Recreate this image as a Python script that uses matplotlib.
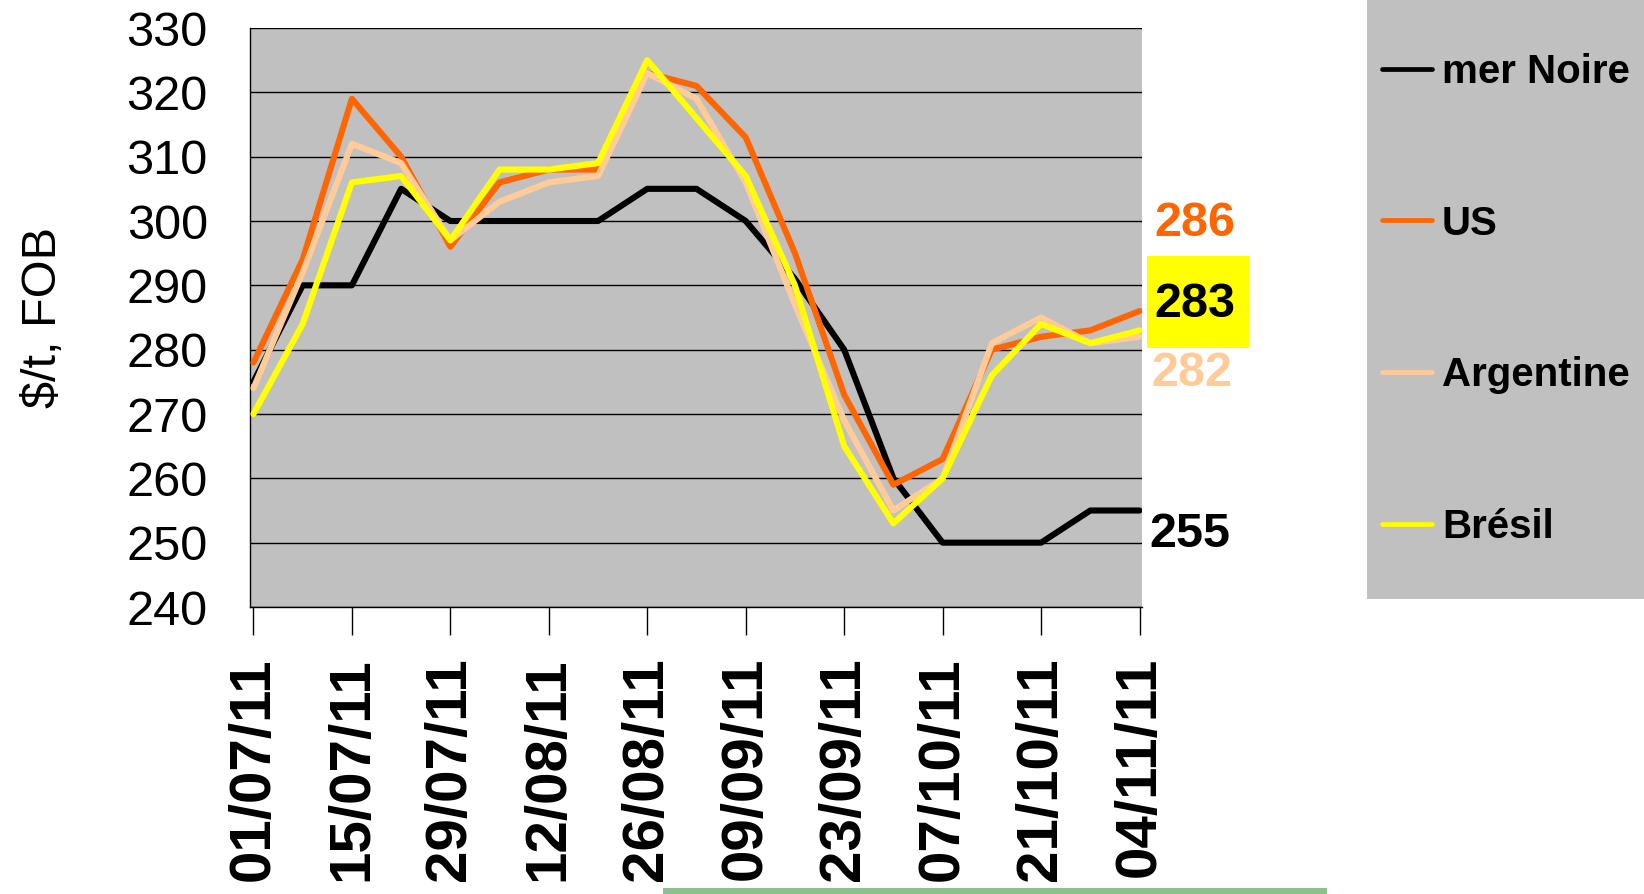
import matplotlib
matplotlib.use("Agg")
import matplotlib.pyplot as plt
from matplotlib.patches import Rectangle

# ---------------- data ----------------
dates = ['01/07/11', '08/07/11', '15/07/11', '22/07/11', '29/07/11', '05/08/11',
         '12/08/11', '19/08/11', '26/08/11', '02/09/11', '09/09/11', '16/09/11',
         '23/09/11', '30/09/11', '07/10/11', '14/10/11', '21/10/11', '28/10/11',
         '04/11/11']
mer_noire = [275, 290, 290, 305, 300, 300, 300, 300, 305, 305, 300, 291, 280, 260, 250, 250, 250, 255, 255]
us        = [278, 294, 319, 310, 296, 306, 308, 308, 323, 321, 313, 295, 273, 259, 263, 280, 282, 283, 286]
argentine = [274, 292, 312, 309, 297, 303, 306, 307, 323, 319, 306, 287, 269, 255, 260, 281, 285, 281, 282]
bresil    = [270, 284, 306, 307, 297, 308, 308, 309, 325, 316, 307, 290, 265, 253, 260, 276, 284, 281, 283]
series_names = ['mer Noire', 'US', 'Argentine', 'Brésil']
colors = ['#000000', '#FF6600', '#FFCC99', '#FFFF00']
y_ticks = list(range(240, 331, 10))

plt.rcParams['font.family'] = ['Liberation Sans', 'DejaVu Sans']

W, H = 1644, 894
fig = plt.figure(figsize=(W / 100, H / 100), dpi=100)

# legend background panel
fig.patches.append(Rectangle((1367 / W, 1 - 599 / H), (W - 1367) / W, 599 / H,
                             transform=fig.transFigure, facecolor='#C0C0C0',
                             edgecolor='none', zorder=0))
# thin green strip at bottom (artifact in source image)
fig.patches.append(Rectangle((663 / W, 0), (1327 - 663) / W, 6 / H,
                             transform=fig.transFigure, facecolor='#8CC08C',
                             edgecolor='none', zorder=0))

ax = fig.add_axes([249.5 / W, 1 - 607 / H, (1142 - 249.5) / W, (607 - 28) / H])
ax.set_facecolor('#C0C0C0')

x = list(range(len(dates)))
lines = []
for vals, col, name in zip([mer_noire, us, argentine, bresil], colors, series_names):
    ln, = ax.plot(x, vals, color=col, lw=4.4, label=name, solid_capstyle='round',
                  solid_joinstyle='round', zorder=3)
    lines.append(ln)

ax.set_ylim(240, 330)
ax.set_yticks(y_ticks)
ax.set_xlim(-0.08, 18.05)
ax.set_xticks(x[::2])
ax.set_xticklabels(dates[::2], rotation=90, fontsize=42, fontweight='bold')
ax.tick_params(axis='x', length=20, width=1, pad=16, direction='out', color='black')
ax.tick_params(axis='y', length=0, pad=30, labelsize=35)
ax.grid(axis='y', color='black', lw=1)
ax.set_axisbelow(True)
for s in ['top', 'right']:
    ax.spines[s].set_visible(False)
for s in ['left', 'bottom']:
    ax.spines[s].set_color('black')
    ax.spines[s].set_linewidth(1)

ax.set_ylabel('$/t, FOB', fontsize=35)
ax.yaxis.set_label_coords(-0.231, 0.5)
ax.yaxis.label.set_va('center')

# end-value labels
ax.add_patch(Rectangle((18.15, 280.3), 2.07, 14.3, facecolor='#FFFF00',
                       edgecolor='none', clip_on=False, zorder=4))
ax.text(19.13, 299.6, str(us[-1]), color='#FF6600', fontsize=35, fontweight='bold',
        ha='center', va='center', clip_on=False, zorder=5)
ax.text(19.13, 287.0, str(bresil[-1]), color='black', fontsize=35, fontweight='bold',
        ha='center', va='center', clip_on=False, zorder=5)
ax.text(19.07, 276.3, str(argentine[-1]), color='#FFCC99', fontsize=35, fontweight='bold',
        ha='center', va='center', clip_on=False, zorder=5)
ax.text(19.02, 251.2, str(mer_noire[-1]), color='black', fontsize=35, fontweight='bold',
        ha='center', va='center', clip_on=False, zorder=5)

leg = fig.legend(handles=lines, labels=series_names, loc='upper left',
                 bbox_to_anchor=(1382 / W, 1 - 53 / H), frameon=False,
                 prop={'weight': 'bold', 'size': 29}, handlelength=1.24,
                 handletextpad=0.25, labelspacing=2.82, borderpad=0, borderaxespad=0)
for h in leg.legend_handles:
    h.set_linewidth(3.4)

fig.savefig('out.png', dpi=100)
